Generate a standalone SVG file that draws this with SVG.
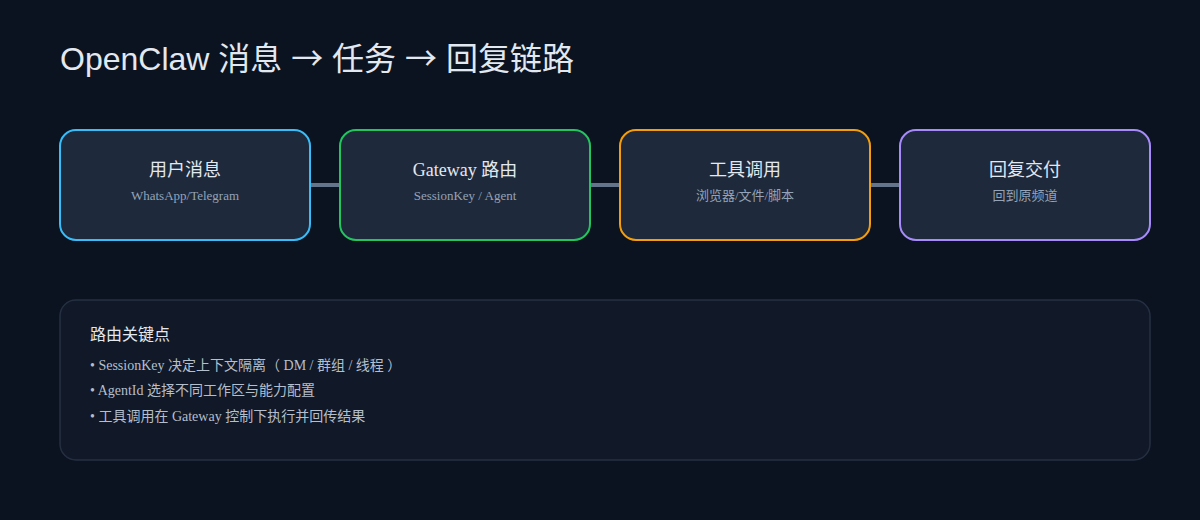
<svg xmlns="http://www.w3.org/2000/svg" width="1200" height="520" viewBox="0 0 1200 520" xml:lang="zh-CN" lang="zh-CN">
<style>
.title{font-family:"Liberation Sans","Noto Sans CJK SC",sans-serif;font-size:32px;fill:#e2e8f0}
.arr{font-family:"Noto Sans CJK SC",sans-serif}
.node rect{fill:#1e293b;stroke-width:2}
.nt{font-family:"Liberation Serif","Noto Sans CJK SC",serif;font-size:18px;fill:#e2e8f0;text-anchor:middle}
.ns{font-family:"Liberation Serif","Noto Sans CJK SC",serif;font-size:13px;fill:#94a3b8;text-anchor:middle}
.conn line{stroke:#64748b;stroke-width:4}
.ph{font-family:"Liberation Serif","Noto Sans CJK SC",serif;font-size:16px;fill:#e2e8f0}
.pb{font-family:"Liberation Serif","Noto Sans CJK SC",serif;font-size:14px;fill:#b4bfcd}
.par{font-family:"Noto Sans CJK TC",sans-serif}
</style>
<rect width="1200" height="520" fill="#0b1220"/>
<text class="title" x="60" y="70">OpenClaw 消息 <tspan class="arr">→</tspan> 任务 <tspan class="arr">→</tspan> 回复链路</text>
<g class="conn" id="connectors">
<line x1="310" y1="185" x2="340" y2="185"/>
<line x1="590" y1="185" x2="620" y2="185"/>
<line x1="870" y1="185" x2="900" y2="185"/>
</g>
<g class="node" id="n1">
<rect x="60" y="130" width="250" height="110" rx="16" stroke="#38bdf8"/>
<text class="nt" x="185" y="176">用户消息</text>
<text class="ns" x="185" y="200">WhatsApp/Telegram</text>
</g>
<g class="node" id="n2">
<rect x="340" y="130" width="250" height="110" rx="16" stroke="#22c55e"/>
<text class="nt" x="465" y="176">Gateway 路由</text>
<text class="ns" x="465" y="200">SessionKey / Agent</text>
</g>
<g class="node" id="n3">
<rect x="620" y="130" width="250" height="110" rx="16" stroke="#f59e0b"/>
<text class="nt" x="745" y="176">工具调用</text>
<text class="ns" x="745" y="200">浏览器/文件/脚本</text>
</g>
<g class="node" id="n4">
<rect x="900" y="130" width="250" height="110" rx="16" stroke="#a78bfa"/>
<text class="nt" x="1025" y="176">回复交付</text>
<text class="ns" x="1025" y="200">回到原频道</text>
</g>
<g id="panel">
<rect x="60" y="300" width="1090" height="160" rx="16" fill="#111827" stroke="#243041" stroke-width="1.5"/>
<text class="ph" x="90" y="340">路由关键点</text>
<text class="pb" x="90" y="370" xml:space="preserve">• SessionKey 决定上下文隔离<tspan class="par">（</tspan> DM / 群组 / 线程 <tspan class="par">）</tspan></text>
<text class="pb" x="90" y="395">• AgentId 选择不同工作区与能力配置</text>
<text class="pb" x="90" y="421">• 工具调用在 Gateway 控制下执行并回传结果</text>
</g>
</svg>
